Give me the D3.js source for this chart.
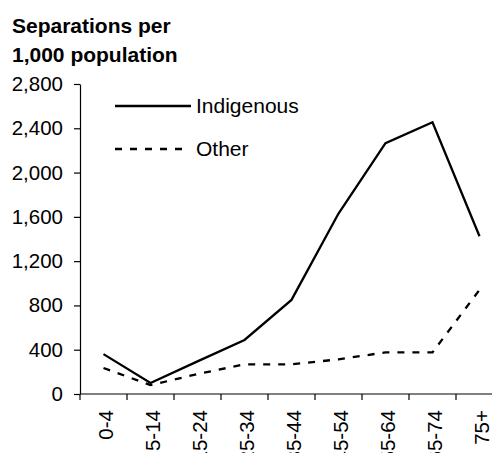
<!DOCTYPE html>
<html>
<head>
<meta charset="utf-8">
<script src="https://cdn.jsdelivr.net/npm/d3@7"></script>
<style>
  body { margin: 0; background: #fff; }
  svg { display: block; font-family: "Liberation Sans", Arial, sans-serif; }
</style>
</head>
<body>
<svg id="chart" width="492" height="453"></svg>
<script>
// age groups and rates (separations per 1,000 population)
var ageGroups = ['0-4', '5-14', '15-24', '25-34', '35-44', '45-54', '55-64', '65-74', '75+'];
var indigenous = [360, 100, 295, 488, 850, 1630, 2265, 2455, 1425];
var other = [235, 80, 180, 268, 268, 313, 376, 376, 940];
var yTicks = [0, 400, 800, 1200, 1600, 2000, 2400, 2800];

var svg = d3.select('#chart');
var plotLeft = 80, plotTop = 84, plotBottom = 394, bandW = 47;

var x = d3.scaleBand()
  .domain(ageGroups)
  .range([plotLeft, plotLeft + bandW * ageGroups.length]);

var y = d3.scaleLinear()
  .domain([0, 2800])
  .range([plotBottom, plotTop]);

// y axis
var yAxis = svg.append('g')
  .attr('transform', 'translate(' + plotLeft + ',0)')
  .call(d3.axisLeft(y).tickValues(yTicks).tickSize(6).tickSizeOuter(0).tickPadding(11).tickFormat(d3.format(',')));
yAxis.selectAll('text').attr('font-size', 20.5).attr('fill', '#000').style('font-family', 'Liberation Sans, Arial, sans-serif');
yAxis.selectAll('line, path').attr('stroke', '#000').attr('stroke-width', 1.2);

// x axis, ticks between categories
var xAxis = svg.append('g')
  .attr('transform', 'translate(0,' + plotBottom + ')');
xAxis.append('line')
  .attr('x1', plotLeft).attr('x2', plotLeft + bandW * ageGroups.length)
  .attr('stroke', '#000').attr('stroke-width', 1.2);
xAxis.selectAll('line.tick')
  .data(ageGroups)
  .enter().append('line')
  .attr('class', 'tick')
  .attr('x1', d => x(d)).attr('x2', d => x(d))
  .attr('y1', 0).attr('y2', 6)
  .attr('stroke', '#000').attr('stroke-width', 1.2);
xAxis.selectAll('text')
  .data(ageGroups)
  .enter().append('text')
  .attr('transform', d => 'translate(' + (x(d) + x.bandwidth() / 2 + 9) + ',16) rotate(-90)')
  .attr('text-anchor', 'end')
  .attr('font-size', 20.5)
  .text(d => d);

// lines
var line = d3.line()
  .x((d, i) => x(ageGroups[i]) + x.bandwidth() / 2)
  .y(d => y(d));

svg.append('path')
  .datum(indigenous)
  .attr('d', line)
  .attr('fill', 'none')
  .attr('stroke', '#000')
  .attr('stroke-width', 2.3);

svg.append('path')
  .datum(other)
  .attr('d', line)
  .attr('fill', 'none')
  .attr('stroke', '#000')
  .attr('stroke-width', 2.3)
  .attr('stroke-dasharray', '7,8');

// legend
var legend = svg.append('g');
legend.append('line')
  .attr('x1', 115).attr('x2', 191).attr('y1', 106).attr('y2', 106)
  .attr('stroke', '#000').attr('stroke-width', 2.3);
legend.append('text')
  .attr('x', 196).attr('y', 113).attr('font-size', 21).text('Indigenous');
legend.append('line')
  .attr('x1', 115).attr('x2', 183).attr('y1', 149).attr('y2', 149)
  .attr('stroke', '#000').attr('stroke-width', 2.3)
  .attr('stroke-dasharray', '7,8');
legend.append('text')
  .attr('x', 196).attr('y', 156).attr('font-size', 21).text('Other');

// title
var title = svg.append('text')
  .attr('font-size', 21).attr('font-weight', 'bold');
title.append('tspan').attr('x', 12).attr('y', 33).text('Separations per');
title.append('tspan').attr('x', 12).attr('y', 62).text('1,000 population');
</script>
</body>
</html>
